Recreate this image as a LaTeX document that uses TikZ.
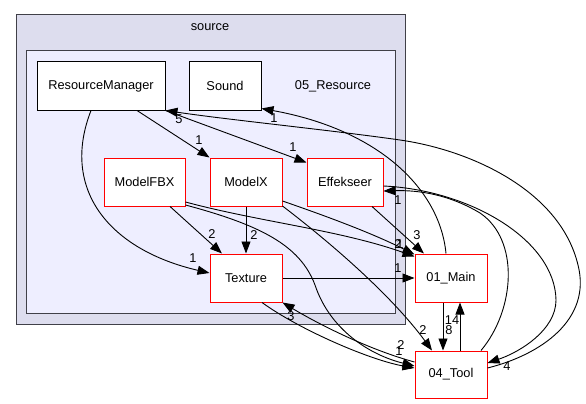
\documentclass[tikz,border=0pt]{standalone}
\usepackage{fontspec}
\setmainfont{Liberation Sans}
\usetikzlibrary{arrows.meta}
\begin{document}
\begin{tikzpicture}[x=1pt,y=-1pt,
  every node/.style={font=\fontsize{12.8}{15}\selectfont, inner sep=0pt},
  dirbox/.style={draw=black, fill=white, line width=1pt, minimum height=48pt},
  redbox/.style={dirbox, draw=red},
  dep/.style={draw=black, line width=0.9pt, -{Triangle[length=12pt,width=9pt]}},
  lbl/.style={inner sep=0pt}]
\useasboundingbox (0,0) rectangle (586,404);
\fill[white] (0,0) rectangle (586,404);
% clusters
\draw[fill={rgb,255:red,221;green,221;blue,238}, draw={rgb,255:red,64;green,64;blue,72}, line width=1pt] (16,15) rectangle (405,324);
\draw[fill={rgb,255:red,238;green,238;blue,255}, draw={rgb,255:red,64;green,64;blue,72}, line width=1pt] (26,51) rectangle (395,313);
\node (srclbl) at (210,27) {source};
\node (reslbl) at (333,86) {05\_Resource};
% nodes
\node[dirbox, minimum width=128pt] (RM) at (101,86) {ResourceManager};
\node[dirbox, minimum width=72pt] (Sound) at (225,86) {Sound};
\node[redbox, minimum width=81pt] (FBX) at (144.5,182) {ModelFBX};
\node[redbox, minimum width=72pt] (MX) at (246,182) {ModelX};
\node[redbox, minimum width=76pt] (Eff) at (345,182) {Effekseer};
\node[redbox, minimum width=72pt] (Tex) at (246,278) {Texture};
\node[redbox, minimum width=72pt] (Main) at (451,278) {01\_Main};
\node[redbox, minimum width=72pt, minimum height=47pt] (Tool) at (451,374.5) {04\_Tool};
% edges
\draw[dep] ([xshift=36pt]RM.south) -- (MX.north west);
\draw[dep] (RM.south east) -- ([yshift=-5pt]Eff.north west);
\draw[dep] ([xshift=-10pt]RM.south) .. controls (60,190) and (110,250) .. ([yshift=5pt]Tex.west);
\draw[dep] ([xshift=25.5pt]FBX.south) -- ([xshift=-24pt]Tex.north);
\draw[dep] (MX.south) -- (Tex.north);
\draw[dep] ([yshift=-20pt]FBX.east) .. controls (260,222) and (340,230) .. ([yshift=-3pt]Main.north west);
\draw[dep] ([yshift=-19pt]MX.east) .. controls (320,214) and (370,232) .. ([yshift=-1pt]Main.north west);
\draw[dep] ([yshift=-24pt]MX.east) .. controls (340,250) and (395,300) .. ([xshift=-19pt]Tool.north);
\draw[dep] ([yshift=-23pt]FBX.east) .. controls (260,225) and (300,245) .. (315,285) .. controls (330,330) and (370,355) .. ([yshift=8.5pt]Tool.west);
\draw[dep] (Tex.east) -- (Main.west);
\draw[dep] ([xshift=16pt]Tex.south) .. controls (300,330) and (370,360) .. ([yshift=6.5pt]Tool.west);
\draw[dep] ([yshift=12.5pt]Tool.west) .. controls (370,350) and (320,325) .. (Tex.south east);
\draw[dep] ([xshift=27pt]Eff.south) -- ([xshift=-27pt]Main.north);
\draw[dep] ([xshift=-5pt]Main.north) .. controls (440,190) and (380,130) .. ([yshift=2pt]Sound.south east);
\draw[dep] ([yshift=6.5pt]Tool.east) .. controls (540,355) and (592,320) .. (578,265) .. controls (560,190) and (470,150) .. (400,140) .. controls (330,130) and (230,120) .. (RM.south east);
\draw[dep] ([yshift=-4pt]Eff.east) .. controls (470,190) and (555,240) .. (556,300) .. controls (556,330) and (520,352) .. ([yshift=11.5pt]Tool.east);
\draw[dep] ([xshift=30pt]Tool.north) .. controls (515,310) and (520,240) .. (480,213) .. controls (450,195) and (420,190) .. ([yshift=-9pt]Eff.east);
\draw[dep] ([xshift=-8pt]Main.south) -- ([xshift=-8pt]Tool.north);
\draw[dep] ([xshift=9pt]Tool.north) -- ([xshift=9pt]Main.south);
% labels
\node[lbl] (a1) at (199,140) {1};
\node[lbl] (a2) at (293,147) {1};
\node[lbl] (a3) at (193,258) {1};
\node[lbl] (a4) at (212,234) {2};
\node[lbl] (a5) at (254,235) {2};
\node[lbl] (a6) at (398,244) {2};
\node[lbl] (a7) at (400,244) {1};
\node[lbl] (a8) at (423,330) {2};
\node[lbl] (a9) at (401,345) {2};
\node[lbl] (a10) at (399,351) {1};
\node[lbl] (a11) at (398,268) {1};
\node[lbl] (a12) at (291,316) {3};
\node[lbl] (a13) at (417,235) {3};
\node[lbl] (a14) at (274,118) {1};
\node[lbl] (a15) at (179,119) {5};
\node[lbl] (a16) at (507,366) {4};
\node[lbl] (a17) at (398,200) {1};
\node[lbl] (a18) at (449,330) {8};
\node[lbl] (a19) at (452,320) {14};
\end{tikzpicture}
\end{document}
